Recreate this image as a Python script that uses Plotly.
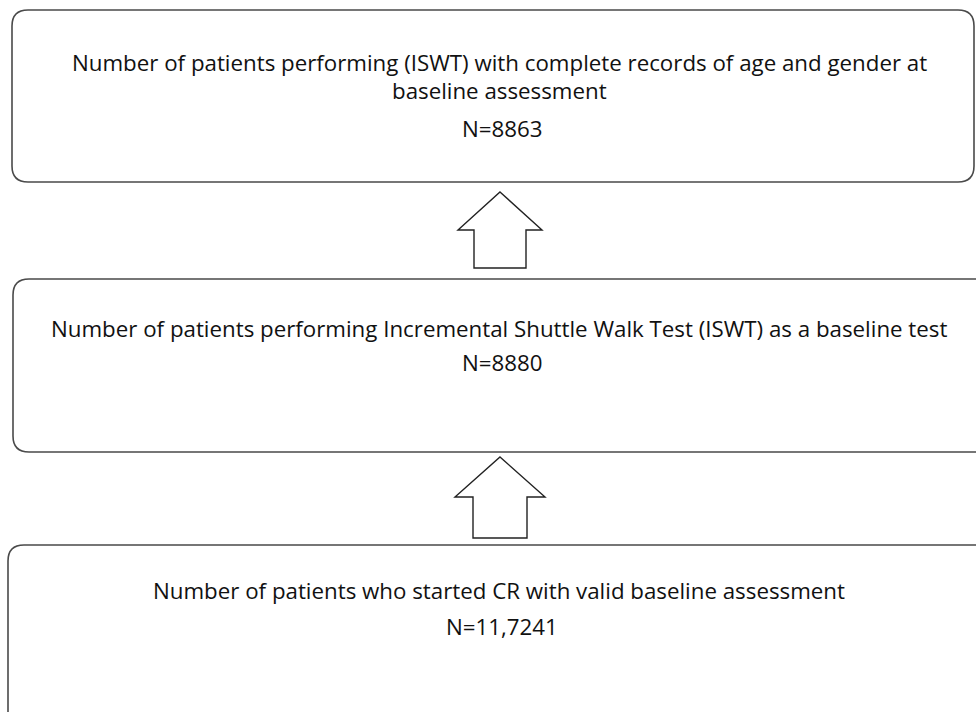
import plotly.graph_objects as go

W, H = 976, 712

# Data: flow boxes (top to bottom)
box_lines = [
    ["Number of patients performing (ISWT) with complete records of age and gender at",
     "baseline assessment"],
    ["Number of patients performing Incremental Shuttle Walk Test (ISWT) as a baseline test"],
    ["Number of patients who started CR with valid baseline assessment"],
]
box_counts = ["N=8863", "N=8880", "N=11,7241"]

# Layout geometry (pixels)
boxes = [  # x0, y0, x1, y1
    (12, 10, 974, 182),
    (13, 279, 995, 452),
    (8, 545, 995, 740),
]
text_y = [[62, 90], [328], [590]]
count_y = [128, 362, 626]
arrows = [  # tip_y, head_base_y, bottom_y, head half width, shaft half width, cx
    (192, 230, 268, 42, 26, 500),
    (457, 497, 538, 45, 27, 500),
]
CX = 499

LINE = "#4a4a4a"
FONT = "Open Sans"
FS = 22.3


def rrect(x0, y0, x1, y1, r=16):
    return (f"M {x0+r},{y0} L {x1-r},{y0} Q {x1},{y0} {x1},{y0+r} "
            f"L {x1},{y1-r} Q {x1},{y1} {x1-r},{y1} L {x0+r},{y1} "
            f"Q {x0},{y1} {x0},{y1-r} L {x0},{y0+r} Q {x0},{y0} {x0+r},{y0} Z")


fig = go.Figure()
shapes = []
for (x0, y0, x1, y1) in boxes:
    shapes.append(dict(type="path", path=rrect(x0, y0, x1, y1), xref="x", yref="y",
                       line=dict(color=LINE, width=1.6), fillcolor="white", layer="below"))
for (ty, hb, by, hw, sw, cx) in arrows:
    p = (f"M {cx},{ty} L {cx+hw},{hb} L {cx+sw},{hb} L {cx+sw},{by} "
         f"L {cx-sw},{by} L {cx-sw},{hb} L {cx-hw},{hb} Z")
    shapes.append(dict(type="path", path=p, xref="x", yref="y",
                       line=dict(color="#222222", width=1.4), fillcolor="white"))

annotations = []
for i, lines in enumerate(box_lines):
    for t, yy in zip(lines, text_y[i]):
        annotations.append(dict(x=CX, y=yy, xref="x", yref="y", text=t, showarrow=False,
                                font=dict(family=FONT, size=FS, color="#111111"),
                                xanchor="center", yanchor="middle"))
    annotations.append(dict(x=CX + 3, y=count_y[i], xref="x", yref="y", text=box_counts[i],
                            showarrow=False, font=dict(family=FONT, size=FS, color="#111111"),
                            xanchor="center", yanchor="middle"))

fig.update_layout(
    width=W, height=H, margin=dict(l=0, r=0, t=0, b=0),
    paper_bgcolor="white", plot_bgcolor="white",
    xaxis=dict(range=[0, W], visible=False, fixedrange=True),
    yaxis=dict(range=[H, 0], visible=False, fixedrange=True),
    shapes=shapes, annotations=annotations, showlegend=False,
)
fig.write_html("out.html", config={"displayModeBar": False},
               post_script="document.body.style.margin='0';document.body.style.overflow='hidden';")
